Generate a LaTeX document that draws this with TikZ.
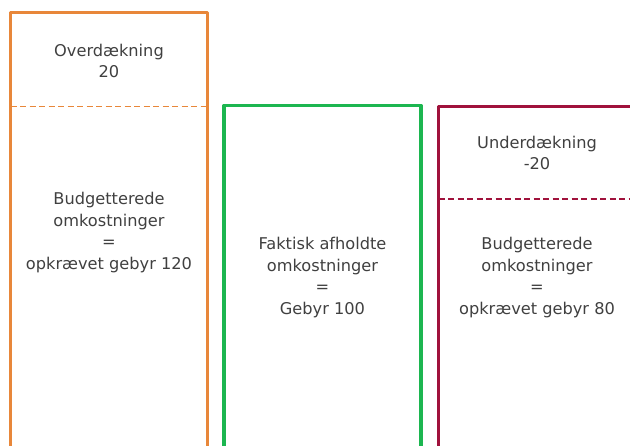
\documentclass[tikz,border=0pt]{standalone}
\usepackage{fontspec}
\setmainfont{DejaVu Sans}
\definecolor{overcol}{RGB}{232,135,58}
\definecolor{actualcol}{RGB}{28,182,80}
\definecolor{undercol}{RGB}{160,18,60}
\definecolor{txt}{RGB}{64,64,64}
\begin{document}
\begin{tikzpicture}[x=1pt,y=-1pt,
  frame/.style={line width=3.3pt, line join=round, inner sep=0pt, outer sep=0pt, anchor=north west},
  divider/.style={line width=1.6pt, dash pattern=on 6pt off 3.5pt},
  label/.style={text=txt, align=center, inner sep=0pt, font=\fontsize{16.2}{21.7}\selectfont}]
\useasboundingbox (0,0) rectangle (630,446);
\clip (0,0) rectangle (630,446);

% the three columns (their bottoms run past the lower edge)
\node[frame, draw=overcol, minimum width=197pt, minimum height=470pt] (over) at (10.5,12.7) {};
\node[frame, draw=actualcol, minimum width=197pt, minimum height=400pt] (actual) at (224,105.5) {};
\node[frame, draw=undercol, minimum width=197pt, minimum height=400pt] (under) at (438.5,106.5) {};

% dashed dividers
\draw[divider, overcol] (10.5,106.5) -- (207.5,106.5);
\draw[divider, undercol] (438.5,199) -- (640,199);

% texts
\node[label] (overtop) at (109,61) {Overdækning\\20};
\node[label] (overmain) at (109,232.5) {Budgetterede\\omkostninger\\=\\opkrævet gebyr 120};
\node[label] (actualmain) at (322.5,277.5) {Faktisk afholdte\\omkostninger\\=\\Gebyr 100};
\node[label] (undertop) at (537,153) {Underdækning\\-20};
\node[label] (undermain) at (537,277.5) {Budgetterede\\omkostninger\\=\\opkrævet gebyr 80};
\end{tikzpicture}
\end{document}
